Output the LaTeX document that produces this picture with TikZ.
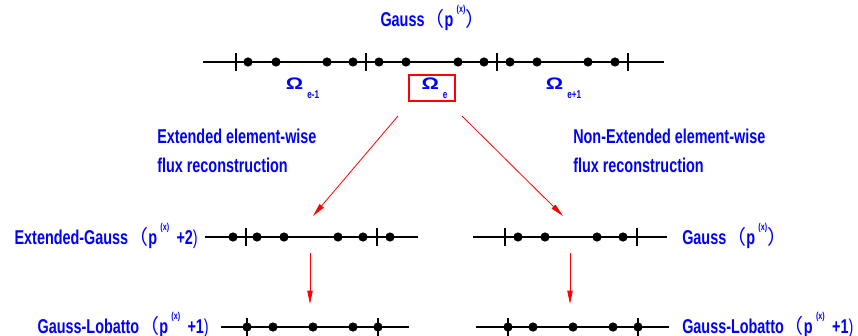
\documentclass[tikz,border=0pt]{standalone}
\usepackage{fontspec}
\setmainfont{Liberation Sans}[FakeStretch=0.72]
\newfontfamily\omfont{Liberation Sans}[FakeStretch=1.3]
\newfontfamily\cjk{Noto Sans CJK SC}
\usetikzlibrary{arrows.meta}

\newcommand\lblfont{\fontsize{15}{21.75}\selectfont\bfseries}
\newcommand\supx{\,\raisebox{1.25ex}{\fontsize{7.5}{7.5}\selectfont(x)}}
\newcommand\omsub[1]{{\omfont\fontsize{12.5}{12.5}\selectfont Ω}\hspace{3pt}\raisebox{-7pt}{\fontsize{8.5}{8.5}\selectfont #1}}
\newcommand\lp{{\cjk\mdseries （}}
\newcommand\rp{{\cjk\mdseries ）}}

\tikzset{
  lbl/.style={text=blue,inner sep=0pt,font=\lblfont},
  axis/.style={line width=1.1pt},
  flow/.style={red,line width=.6pt,-{Triangle[length=10pt,width=4pt]}},
}

\begin{document}
\begin{tikzpicture}[x=.75pt,y=-.75pt]
\useasboundingbox (0,0) rectangle (858,336);
\node[lbl] (gtop) at (433,18) {Gauss\lp p\supx\rp};
\draw[axis] (203,62) -- (664,62);
\draw[axis] (236,53) -- (236,71);
\draw[axis] (366,53) -- (366,71);
\draw[axis] (497,53) -- (497,71);
\draw[axis] (628,53) -- (628,71);
\fill (248,62) circle[radius=4.6] (276,62) circle[radius=4.6] (327,62) circle[radius=4.6] (353,62) circle[radius=4.6];
\fill (379,62) circle[radius=4.6] (406,62) circle[radius=4.6] (458,62) circle[radius=4.6] (484,62) circle[radius=4.6];
\fill (510,62) circle[radius=4.6] (537,62) circle[radius=4.6] (588,62) circle[radius=4.6] (615,62) circle[radius=4.6];
\node[lbl] (om) at (302.5,88.5) {\omsub{e-1}};
\node[lbl] (oe) at (434.5,88.5) {\omsub{e}};
\node[lbl] (op) at (563.5,88.5) {\omsub{e+1}};
\draw[red,line width=1.1pt] (409,75) rectangle (455,101);
\node[lbl,anchor=west,align=left] (ext) at (157,150.5) {Extended element-wise\\flux reconstruction};
\node[lbl,anchor=west,align=left] (next) at (573,150.5) {Non-Extended element-wise\\flux reconstruction};
\coordinate (ls) at (398,116);
\coordinate (le) at (313,216);
\coordinate (rs) at (462,116);
\coordinate (re) at (563,216);
\draw[flow] (ls) -- (le);
\draw[flow] (rs) -- (re);
\node[lbl,anchor=east] (egauss) at (198,236) {Extended-Gauss\lp p\supx\ \,+2{\mdseries)}};
\draw[axis] (205,237) -- (418,237);
\draw[axis] (246,228) -- (246,246);
\draw[axis] (377,228) -- (377,246);
\fill (233,237) circle[radius=4.6] (257,237) circle[radius=4.6] (284,237) circle[radius=4.6];
\fill (338,237) circle[radius=4.6] (363,237) circle[radius=4.6] (390,237) circle[radius=4.6];
\draw[axis] (473,237) -- (667,237);
\draw[axis] (505,228) -- (505,246);
\draw[axis] (637,228) -- (637,246);
\fill (518,237) circle[radius=4.6] (545,237) circle[radius=4.6] (597,237) circle[radius=4.6] (623,237) circle[radius=4.6];
\node[lbl,anchor=west] (gright) at (682,236) {Gauss\lp p\supx\rp};
\coordinate (lds) at (310,253);
\coordinate (lde) at (310,304);
\coordinate (rds) at (570,253);
\coordinate (rde) at (570,304);
\draw[flow] (lds) -- (lde);
\draw[flow] (rds) -- (rde);
\node[lbl,anchor=east] (lobl) at (209,325) {Gauss-Lobatto\lp p\supx\ \,+1{\mdseries)}};
\draw[axis] (221,327) -- (409,327);
\draw[axis] (247,318) -- (247,336);
\draw[axis] (378,318) -- (378,336);
\fill (247,327) circle[radius=4.6] (273,327) circle[radius=4.6] (313,327) circle[radius=4.6] (353,327) circle[radius=4.6] (378,327) circle[radius=4.6];
\draw[axis] (476,327) -- (669,327);
\draw[axis] (508,318) -- (508,336);
\draw[axis] (638,318) -- (638,336);
\fill (508,327) circle[radius=4.6] (533,327) circle[radius=4.6] (573,327) circle[radius=4.6] (613,327) circle[radius=4.6] (638,327) circle[radius=4.6];
\node[lbl,anchor=west] (lobr) at (682,325) {Gauss-Lobatto\lp p\supx\ \,+1{\mdseries)}};
\end{tikzpicture}
\end{document}
